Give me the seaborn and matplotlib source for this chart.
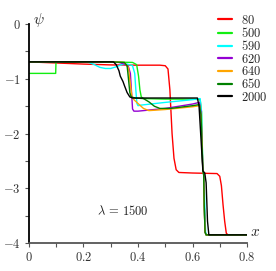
import numpy as np
import pandas as pd
import seaborn as sns
import matplotlib
matplotlib.use("Agg")
import matplotlib.pyplot as plt
from matplotlib.ticker import MultipleLocator, FuncFormatter

# psi(x) profiles for several times, lambda = 1500
x_80 = [0, 0.1, 0.2, 0.3, 0.4, 0.48, 0.50, 0.51, 0.517, 0.525, 0.532, 0.54, 0.55, 0.6, 0.69,
        0.70, 0.706, 0.712, 0.718, 0.724, 0.73, 0.8]
y_80 = [-0.69, -0.71, -0.73, -0.745, -0.75, -0.75, -0.76, -0.82, -1.2, -2.0, -2.45, -2.66, -2.71, -2.72, -2.73,
        -2.78, -2.95, -3.3, -3.6, -3.82, -3.85, -3.85]

x_500 = [0, 0.098, 0.099, 0.1, 0.2, 0.3, 0.38, 0.395, 0.402, 0.407, 0.412, 0.42, 0.5, 0.6, 0.628,
         0.633, 0.638, 0.641, 0.643, 0.646, 0.65, 0.8]
y_500 = [-0.90, -0.90, -0.70, -0.69, -0.69, -0.69, -0.70, -0.74, -0.95, -1.2, -1.33, -1.36, -1.37, -1.37, -1.38,
         -1.6, -2.68, -2.75, -3.3, -3.8, -3.85, -3.85]

x_590 = [0, 0.2, 0.22, 0.24, 0.26, 0.28, 0.30, 0.32, 0.34, 0.36, 0.38, 0.388, 0.392, 0.396, 0.40,
         0.41, 0.5, 0.6, 0.628, 0.633, 0.638, 0.642, 0.645, 0.648, 0.652, 0.8]
y_590 = [-0.69, -0.69, -0.70, -0.74, -0.79, -0.81, -0.81, -0.78, -0.74, -0.73, -0.76, -0.9, -1.2, -1.45, -1.49,
         -1.48, -1.43, -1.38, -1.36, -1.6, -2.68, -2.75, -3.3, -3.8, -3.85, -3.85]

x_620 = [0, 0.1, 0.2, 0.3, 0.33, 0.35, 0.365, 0.372, 0.377, 0.38, 0.385, 0.4, 0.5, 0.6, 0.625,
         0.631, 0.638, 0.641, 0.643, 0.646, 0.65, 0.8]
y_620 = [-0.69, -0.69, -0.69, -0.69, -0.70, -0.73, -0.78, -0.9, -1.3, -1.55, -1.59, -1.59, -1.54, -1.46, -1.43,
         -1.6, -2.68, -2.75, -3.3, -3.8, -3.85, -3.85]

x_640 = [0, 0.1, 0.2, 0.3, 0.35, 0.365, 0.372, 0.378, 0.385, 0.40, 0.42, 0.44, 0.5, 0.6, 0.626,
         0.632, 0.638, 0.641, 0.643, 0.646, 0.65, 0.8]
y_640 = [-0.69, -0.69, -0.69, -0.69, -0.70, -0.8, -1.1, -1.33, -1.38, -1.45, -1.54, -1.58, -1.56, -1.51, -1.49,
         -1.7, -2.68, -2.75, -3.3, -3.8, -3.85, -3.85]

x_650 = [0, 0.1, 0.2, 0.3, 0.35, 0.36, 0.365, 0.37, 0.375, 0.39, 0.42, 0.44, 0.46, 0.48, 0.52,
         0.6, 0.625, 0.631, 0.638, 0.641, 0.643, 0.646, 0.65, 0.8]
y_650 = [-0.69, -0.69, -0.69, -0.69, -0.70, -0.76, -1.0, -1.25, -1.33, -1.35, -1.36, -1.42, -1.50, -1.54, -1.54,
         -1.49, -1.47, -1.65, -2.68, -2.75, -3.3, -3.8, -3.85, -3.85]

x_2000 = [0, 0.1, 0.2, 0.3, 0.31, 0.32, 0.33, 0.335, 0.345, 0.35, 0.36, 0.37, 0.38, 0.5, 0.618,
          0.624, 0.638, 0.645, 0.65, 0.655, 0.66, 0.8]
y_2000 = [-0.69, -0.69, -0.69, -0.69, -0.69, -0.74, -0.85, -0.95, -1.05, -1.12, -1.25, -1.33, -1.35, -1.35, -1.35,
          -1.5, -2.68, -2.72, -2.9, -3.6, -3.85, -3.85]

labels = ["80", "500", "590", "620", "640", "650", "2000"]
xs = [x_80, x_500, x_590, x_620, x_640, x_650, x_2000]
ys = [y_80, y_500, y_590, y_620, y_640, y_650, y_2000]
colors = ["#ff0000", "#11ee11", "#00ffff", "#9400d3", "#ffa500", "#008000", "#000000"]

sns.set_style("ticks")
plt.rcParams["mathtext.fontset"] = "cm"
plt.rcParams["font.family"] = ["DejaVu Serif"]

fig = plt.figure(figsize=(2.76, 2.71), dpi=100)
ax = fig.add_axes([0.105, 0.103, 0.79, 0.808])

for lab, x, y, c in zip(labels, xs, ys, colors):
    df = pd.DataFrame({"x": x, "psi": y})
    sns.lineplot(data=df, x="x", y="psi", ax=ax, color=c, linewidth=1.0,
                 label="$%s$" % lab, sort=False, estimator=None)

ax.set_xlim(0, 0.8)
ax.set_ylim(-4, 0)
ax.set_xlabel("")
ax.set_ylabel("")
ax.xaxis.set_major_locator(MultipleLocator(0.2))
ax.xaxis.set_minor_locator(MultipleLocator(0.1))
ax.yaxis.set_major_locator(MultipleLocator(1))
ax.yaxis.set_minor_locator(MultipleLocator(0.5))
ax.xaxis.set_major_formatter(FuncFormatter(lambda v, p: "$%g$" % round(v, 2)))
ax.yaxis.set_major_formatter(FuncFormatter(lambda v, p: "$%g$" % round(v, 2)))
ax.tick_params(which="both", direction="out", length=3, width=0.8, color="#555555",
               labelsize=9, labelcolor="#333333", pad=3)

for s in ["top", "right"]:
    ax.spines[s].set_visible(False)
ax.spines["left"].set_linewidth(1.3)
ax.spines["left"].set_color("black")
ax.spines["bottom"].set_linewidth(1.3)
ax.spines["bottom"].set_color("#555555")

ax.text(0.037, 0.07, r"$\psi$", fontsize=11, ha="center", va="center", clip_on=False)
ax.text(0.83, -3.8, r"$x$", fontsize=11, ha="center", va="center", clip_on=False)
ax.text(0.345, -3.41, r"$\lambda\,=\,1500$", fontsize=9, ha="center", va="center", color="#222222")

leg = ax.legend(loc="upper left", bbox_to_anchor=(0.79, 0.95), bbox_transform=fig.transFigure,
                frameon=False, fontsize=9, handlelength=1.1, handletextpad=0.7,
                labelspacing=-0.05, borderpad=0, borderaxespad=0)
for h in leg.get_lines():
    h.set_linewidth(1.6)

fig.savefig("out.png", dpi=100)
